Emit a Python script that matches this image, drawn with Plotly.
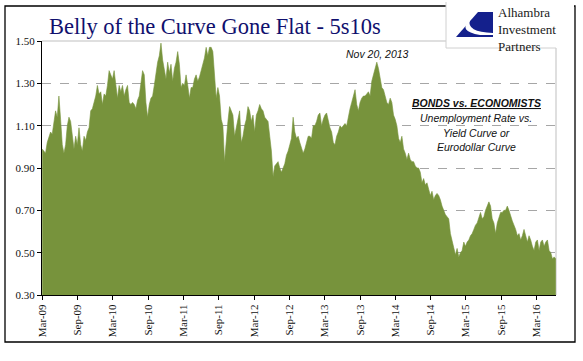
import pandas as pd
import plotly.graph_objects as go

# ---- data (5s10s spread) ----
start_date = "2009-03-02"
end_date = "2016-06-08"

spread_2009_2012 = [
    0.99, 0.98, 0.97, 1.02, 1.05, 1.07, 1.06, 1.12, 1.17, 1.14,
    1.24, 1.13, 1.01, 0.97, 1.01, 1.10, 1.14, 1.12, 1.04, 0.99,
    1.05, 1.01, 1.09, 1.01, 0.98, 1.05, 1.03, 1.07, 1.09, 1.17,
    1.18, 1.21, 1.24, 1.29, 1.25, 1.26, 1.20, 1.25, 1.24, 1.29,
    1.36, 1.34, 1.32, 1.36, 1.29, 1.23, 1.29, 1.26, 1.29, 1.24,
    1.27, 1.29, 1.21, 1.20, 1.21, 1.20, 1.18, 1.22, 1.24, 1.29,
    1.36, 1.34, 1.21, 1.14, 1.20, 1.23, 1.24, 1.29, 1.36, 1.40,
    1.43, 1.49, 1.41, 1.36, 1.32, 1.40, 1.35, 1.39, 1.31, 1.37,
    1.40, 1.45, 1.39, 1.28, 1.30, 1.29, 1.34, 1.29, 1.23, 1.28,
    1.28, 1.32, 1.34, 1.31, 1.33, 1.36, 1.39, 1.42, 1.47, 1.43,
    1.47, 1.47, 1.45, 1.34, 1.23, 1.28, 1.24, 1.13, 1.10, 0.93,
    1.04, 1.12, 1.19, 1.17, 1.15, 1.05, 1.09, 1.13, 1.17, 1.02,
    1.05, 1.10, 1.13, 1.19, 1.17, 1.12, 1.15, 1.07, 1.15, 1.17,
    1.20, 1.18, 1.17, 1.14, 1.13, 1.12, 1.05, 0.98, 0.86, 0.91,
    0.92, 0.93, 0.90, 0.88, 0.90, 0.92, 0.96, 0.98, 1.01, 1.04,
    1.14, 1.07,
]
spread_2012_2016 = [
    1.04, 1.05, 1.02, 0.99, 0.97, 0.99, 1.02, 1.05, 1.05, 1.04,
    1.10, 1.10, 1.12, 1.15, 1.16, 1.10, 1.13, 1.15, 1.16, 1.12,
    1.09, 1.07, 1.02, 1.01, 1.05, 1.07, 1.10, 1.09, 1.10, 1.11,
    1.10, 1.15, 1.18, 1.21, 1.24, 1.27, 1.20, 1.17, 1.21, 1.23,
    1.24, 1.24, 1.25, 1.26, 1.24, 1.31, 1.34, 1.37, 1.40, 1.37,
    1.32, 1.28, 1.27, 1.24, 1.21, 1.20, 1.23, 1.21, 1.15, 1.13,
    1.10, 1.04, 1.02, 1.05, 0.99, 0.97, 0.94, 0.97, 0.94, 0.93,
    0.93, 0.91, 0.90, 0.90, 0.88, 0.83, 0.85, 0.82, 0.83, 0.80,
    0.77, 0.79, 0.75, 0.77, 0.78, 0.77, 0.75, 0.72, 0.70, 0.68,
    0.67, 0.66, 0.59, 0.56, 0.52, 0.49, 0.52, 0.48, 0.50, 0.51,
    0.55, 0.53, 0.55, 0.56, 0.58, 0.59, 0.61, 0.63, 0.64, 0.67,
    0.69, 0.66, 0.67, 0.70, 0.72, 0.74, 0.72, 0.66, 0.64, 0.59,
    0.64, 0.67, 0.69, 0.69, 0.70, 0.70, 0.72, 0.70, 0.67, 0.65,
    0.63, 0.61, 0.58, 0.59, 0.56, 0.58, 0.61, 0.58, 0.55, 0.58,
    0.56, 0.53, 0.51, 0.55, 0.56, 0.51, 0.55, 0.56, 0.53, 0.55,
    0.56, 0.51, 0.50, 0.47, 0.48, 0.47,
]
tick_dates = ["2009-03-01", "2009-09-01", "2010-03-01", "2010-09-01",
              "2011-03-01", "2011-09-01", "2012-03-01", "2012-09-01",
              "2013-03-01", "2013-09-01", "2014-03-01", "2014-09-01",
              "2015-03-01", "2015-09-01", "2016-03-01"]
y_ticks = [0.30, 0.50, 0.70, 0.90, 1.10, 1.30, 1.50]

title_text = "Belly of the Curve Gone Flat - 5s10s"
peak_label = "Nov 20, 2013"
note_lines = ["<b><i><u>BONDS vs. ECONOMISTS</u></i></b>",
              "<i>Unemployment Rate vs.</i>",
              "<i>Yield Curve or</i>",
              "<i>Eurodollar Curve</i>"]
logo_lines = ["Alhambra", "Investment", "Partners"]

values = spread_2009_2012 + spread_2012_2016
dates = pd.date_range(start_date, end_date, periods=len(values))

# ---- layout geometry ----
W, H = 583, 361
L, R, T, B = 42, 27, 41, 66
PW, PH = W - L - R, H - T - B


def px(x):
    return (x - L) / PW


def py(y):
    return (H - B - y) / PH


GREEN = "#77933C"
SERIF = "Liberation Serif, Times New Roman, serif"
SANS = "Liberation Sans, Arial, sans-serif"

fig = go.Figure()
fig.add_trace(go.Scatter(
    x=dates, y=values, mode="lines", fill="tozeroy",
    fillcolor=GREEN, line=dict(color=GREEN, width=0.6),
    hoverinfo="skip", showlegend=False,
))

shapes = []
# plot frame (top & right light grey)
shapes.append(dict(type="line", xref="paper", yref="paper", x0=0, x1=1, y0=1, y1=1,
                   line=dict(color="#BFBFBF", width=1), layer="below"))
shapes.append(dict(type="line", xref="paper", yref="paper", x0=1, x1=1, y0=0, y1=1,
                   line=dict(color="#BFBFBF", width=1), layer="below"))
# outer border
shapes.append(dict(type="rect", xref="paper", yref="paper",
                   x0=px(5), x1=px(575), y0=py(342), y1=py(6),
                   line=dict(color="black", width=1.3)))
# logo box
shapes.append(dict(type="rect", xref="paper", yref="paper",
                   x0=px(446), x1=px(574), y0=py(48), y1=py(2),
                   fillcolor="white", line=dict(width=0)))
shapes.append(dict(type="line", xref="paper", yref="paper",
                   x0=px(446), x1=px(446), y0=py(48), y1=py(2),
                   line=dict(color="#D0D0D0", width=1)))
shapes.append(dict(type="line", xref="paper", yref="paper",
                   x0=px(446), x1=px(556), y0=py(48), y1=py(48),
                   line=dict(color="#D0D0D0", width=1)))


def path(pts, close=True):
    s = ""
    for cmd, coords in pts:
        s += cmd + " " + " ".join(
            f"{px(coords[j]):.5f},{py(coords[j+1]):.5f}" for j in range(0, len(coords), 2)) + " "
    return s + ("Z" if close else "")


# logo swoosh (navy)
shapes.append(dict(type="path", xref="paper", yref="paper",
                   path=path([("M", (478, 12)), ("L", (493, 12)), ("L", (493, 37)),
                              ("L", (456, 37))]),
                   fillcolor="#14208C", line=dict(width=0)))
shapes.append(dict(type="path", xref="paper", yref="paper",
                   path=path([("M", (470, 20)), ("Q", (457, 31, 480, 35)),
                              ("L", (493, 35)), ("L", (493, 33)),
                              ("Q", (466, 32, 470, 20))]),
                   fillcolor="white", line=dict(width=0)))

annotations = []
annotations.append(dict(xref="paper", yref="paper", x=px(47), y=py(26),
                        xanchor="left", yanchor="middle", showarrow=False,
                        text=title_text,
                        font=dict(family=SERIF, size=22.5, color="#10106E")))
annotations.append(dict(xref="paper", yref="paper", x=px(496), y=py(29),
                        xanchor="left", yanchor="middle", align="left", showarrow=False,
                        text="<br>".join(logo_lines),
                        font=dict(family=SERIF, size=13, color="#1A1A1A")))
annotations.append(dict(xref="paper", yref="paper", x=px(377), y=py(54),
                        xanchor="center", yanchor="middle", showarrow=False,
                        text="<i>" + peak_label + "</i>",
                        font=dict(family=SANS, size=10.5, color="#111111")))
for i, t in enumerate(note_lines):
    annotations.append(dict(xref="paper", yref="paper", x=px(476),
                            y=py([103, 118, 133, 147][i]),
                            xanchor="center", yanchor="middle", showarrow=False,
                            text=t, font=dict(family=SANS, size=10.5, color="#111111")))

fig.update_layout(
    width=W, height=H,
    margin=dict(l=L, r=R, t=T, b=B),
    paper_bgcolor="white", plot_bgcolor="white",
    shapes=shapes, annotations=annotations,
    xaxis=dict(
        type="date", range=["2009-03-01", "2016-06-09"],
        tickvals=tick_dates, tickformat="%b-%y", tickangle=-90,
        showgrid=False, showline=True, linecolor="black", linewidth=1,
        ticks="outside", ticklen=4, tickcolor="black",
        tickfont=dict(family=SERIF, size=11, color="#111111"),
        zeroline=False,
    ),
    yaxis=dict(
        range=[0.30, 1.50], tickvals=y_ticks, tickformat=".2f",
        showgrid=True, gridcolor="#A6A6A6", griddash="dash", gridwidth=0.8,
        showline=True, linecolor="black", linewidth=1,
        ticks="outside", ticklen=4, tickcolor="black",
        tickfont=dict(family=SERIF, size=11, color="#111111"),
        zeroline=False,
    ),
)

fig.write_html("out.html",
               config={"displayModeBar": False},
               post_script="document.body.style.margin='0';document.body.style.overflow='hidden';")
